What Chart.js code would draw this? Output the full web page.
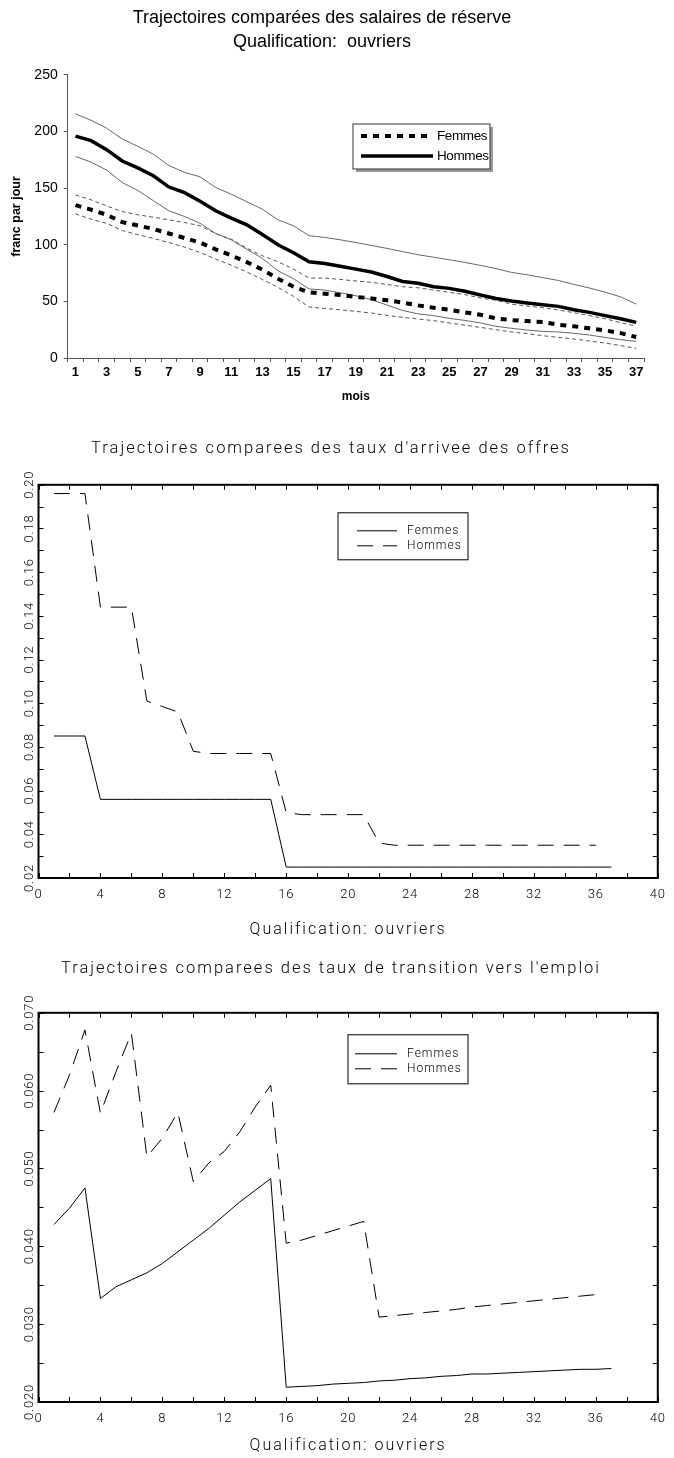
<!DOCTYPE html>
<html>
<head>
<meta charset="utf-8">
<script src="https://cdn.jsdelivr.net/npm/chart.js@4/dist/chart.umd.min.js"></script>
<style>
html,body{margin:0;padding:0;background:#fff;}
#page{position:relative;width:674px;height:1458px;overflow:hidden;background:#fff;}
.box{position:absolute;left:0;width:674px;}
.box canvas{display:block;}
</style>
</head>
<body>
<div id="page">
  <div class="box" style="top:0;height:420px"><canvas id="c1" width="674" height="420"></canvas></div>
  <div class="box" style="top:425px;height:515px"><canvas id="c2" width="674" height="515"></canvas></div>
  <div class="box" style="top:945px;height:513px"><canvas id="c3" width="674" height="513"></canvas></div>
</div>
<script>
// ---------- Chart 1 : salaires de réserve ----------
const moisSalaires = ['1','2','3','4','5','6','7','8','9','10','11','12','13','14','15','16','17','18','19','20','21','22','23','24','25','26','27','28','29','30','31','32','33','34','35','36','37'];
const hommesMoyen = [196,192,184,174,168,161,151,146,138.5,130,123.5,117.6,109,100,93,85,83.5,81,78.5,76,72,67.6,66,63,61.5,59,55.6,52.6,50.3,48.5,47,45.6,42.6,40.3,37.4,34.7,31.5];
const hommesHaut = [215.6,210,203,193.5,187,180,170,164,160,150.6,144.7,138,131.5,122,116.8,108,106.5,104.4,102,99.4,96.8,94,91.2,89,86.8,84.4,81.8,79,75.6,73.5,71,68.5,65,61.8,58.2,54,47.6];
const hommesBas = [178,173,166,155,148,139,130,125,119,110,104.4,96,88,77,70,61,60,57.6,55,51.5,46.8,42,39,37.4,35,33.2,31,28,26.2,24.7,23.5,23,21.8,20.3,18.2,16.2,14.7];
const femmesMoyen = [135,131,126.5,120,117,114,110,106,102,96,90.6,84.7,78,70,63,58,56.8,55.6,54,52.6,51,49,46.5,44.4,42.6,40.3,38.2,35,33.5,32.6,31.8,29.4,28,26.2,24.4,22,18.5];
const femmesHaut = [144,139.7,134.4,129.4,126.5,124.4,122,119.7,116.8,110,105,97,90.3,85,78.5,70.6,70.6,69.4,68,66.8,65,63,62,60,58,56,53,51,47.6,45.9,44.4,42.4,40,37.4,34.7,31.2,28.2];
const femmesBas = [127.4,122.6,119,112.6,109,105.6,102,98,93.2,87.4,82,76,69.4,62.4,54.4,45,43.8,42.6,41.2,39.7,37.6,35.9,34.4,33,31,29,27,25,23,21.5,19.7,18.2,16.8,15,13.2,11,8.5];
const moisAffiches = ['1','3','5','7','9','11','13','15','17','19','21','23','25','27','29','31','33','35','37'];
const yTicksSalaires = [0,50,100,150,200,250];

// ---------- Chart 2 : taux d'arrivée des offres ----------
const moisFemmes = [1,2,3,4,5,6,7,8,9,10,11,12,13,14,15,16,17,18,19,20,21,22,23,24,25,26,27,28,29,30,31,32,33,34,35,36,37];
const moisHommes = [1,2,3,4,5,6,7,8,9,10,11,12,13,14,15,16,17,18,19,20,21,22,23,24,25,26,27,28,29,30,31,32,33,34,35,36];
const femmesArrivee = [0.085,0.085,0.085,0.056,0.056,0.056,0.056,0.056,0.056,0.056,0.056,0.056,0.056,0.056,0.056,0.025,0.025,0.025,0.025,0.025,0.025,0.025,0.025,0.025,0.025,0.025,0.025,0.025,0.025,0.025,0.025,0.025,0.025,0.025,0.025,0.025,0.025];
const hommesArrivee = [0.196,0.196,0.196,0.144,0.144,0.144,0.101,0.0985,0.096,0.078,0.077,0.077,0.077,0.077,0.077,0.050,0.049,0.049,0.049,0.049,0.049,0.036,0.035,0.035,0.035,0.035,0.035,0.035,0.035,0.035,0.035,0.035,0.035,0.035,0.035,0.035];
const xTickLabels = ['0','4','8','12','16','20','24','28','32','36','40'];
const yTicksArrivee = ['0.02','0.04','0.06','0.08','0.10','0.12','0.14','0.16','0.18','0.20'];

// ---------- Chart 3 : taux de transition vers l'emploi ----------
const femmesTransition = [0.0428,0.0449,0.0475,0.0333,0.0348,0.0357,0.0366,0.0378,0.0393,0.0408,0.0423,0.0440,0.0457,0.0472,0.0487,0.0219,0.0220,0.0221,0.0223,0.0224,0.0225,0.0227,0.0228,0.0230,0.0231,0.0233,0.0234,0.0236,0.0236,0.0237,0.0238,0.0239,0.0240,0.0241,0.0242,0.0242,0.0243];
const hommesTransition = [0.0572,0.0620,0.0678,0.0571,0.0624,0.0674,0.0515,0.0539,0.0572,0.0483,0.0507,0.0522,0.0547,0.0579,0.0607,0.0404,0.0408,0.0414,0.0420,0.0426,0.0432,0.0309,0.0311,0.0313,0.0315,0.0317,0.0319,0.0322,0.0324,0.0326,0.0328,0.0330,0.0332,0.0334,0.0336,0.0338];
const yTicksTransition = ['0.020','0.030','0.040','0.050','0.060','0.070'];

// ---------- helpers ----------
const SANS = "'Liberation Sans', Arial, sans-serif";
const NARROW = "'Liberation Sans Narrow', 'Liberation Sans', Arial, sans-serif";
const PLOT = "Roboto, 'DejaVu Sans', sans-serif";
const pts = (xs, ys) => ys.map((v, i) => ({x: xs[i], y: v}));

function legendBox(cfg) {
  return {
    id: 'legendBox',
    afterDraw(chart) {
      const {ctx, chartArea: a} = chart;
      const x0 = a.left + cfg.dx, y0 = a.top + cfg.dy;
      ctx.save();
      if (cfg.shadow) { ctx.fillStyle = '#9a9a9a'; ctx.fillRect(x0 + 3, y0 + 3, cfg.w, cfg.h); }
      ctx.fillStyle = '#fff';
      ctx.fillRect(x0, y0, cfg.w, cfg.h);
      ctx.strokeStyle = cfg.boxColor || '#000';
      ctx.lineWidth = cfg.boxWidth;
      ctx.strokeRect(x0, y0, cfg.w, cfg.h);
      cfg.items.forEach(it => {
        const ds = chart.data.datasets[it.index];
        ctx.beginPath();
        ctx.setLineDash(ds.borderDash || []);
        ctx.lineWidth = ds.borderWidth;
        ctx.strokeStyle = ds.borderColor;
        ctx.moveTo(x0 + cfg.lx0, y0 + it.dy);
        ctx.lineTo(x0 + cfg.lx1, y0 + it.dy);
        ctx.stroke();
        ctx.setLineDash([]);
        ctx.font = cfg.font;
        ctx.fillStyle = '#000';
        ctx.textBaseline = 'middle';
        ctx.textAlign = 'left';
        ctx.letterSpacing = cfg.spacing || '0px';
        ctx.fillText(ds.label, x0 + cfg.tx, y0 + it.dy);
      });
      ctx.restore();
    }
  };
}

const frameTicks = {
  id: 'frameTicks',
  afterDatasetsDraw(chart) {
    const {ctx, chartArea: a, scales: {x, y}} = chart;
    ctx.save();
    ctx.strokeStyle = '#000';
    ctx.lineWidth = 1;
    ctx.beginPath();
    x.ticks.forEach(t => {
      const px = Math.round(x.getPixelForValue(t.value)) + 0.5;
      ctx.moveTo(px, a.bottom); ctx.lineTo(px, a.bottom - 5);
      ctx.moveTo(px, a.top); ctx.lineTo(px, a.top + 5);
    });
    y.ticks.forEach(t => {
      const py = Math.round(y.getPixelForValue(t.value)) + 0.5;
      ctx.moveTo(a.left, py); ctx.lineTo(a.left + 5, py);
      ctx.moveTo(a.right, py); ctx.lineTo(a.right - 5, py);
    });
    ctx.stroke();
    ctx.lineWidth = 2;
    ctx.strokeRect(a.left, a.top, a.right - a.left, a.bottom - a.top);
    ctx.restore();
  }
};

// letter spacing: titles use `px`, tick labels use `tickPx`
const spacing = (px, tickPx) => ({
  id: 'spacing',
  beforeDraw(chart) { chart.ctx.letterSpacing = px; },
  afterLayout(chart) {
    Object.values(chart.scales).forEach(s => {
      if (s._spPatched) return;
      const orig = s.drawLabels.bind(s);
      s.drawLabels = function(area) {
        const c = this.ctx; const old = c.letterSpacing;
        c.letterSpacing = tickPx; orig(area); c.letterSpacing = old;
      };
      s._spPatched = true;
    });
  }
});

// ---------- Chart 1 ----------
new Chart(document.getElementById('c1'), {
  type: 'line',
  data: {
    labels: moisSalaires,
    datasets: [
      {label: 'Femmes', data: femmesMoyen, borderColor: '#000', borderWidth: 4, borderDash: [6, 6], pointRadius: 0, tension: 0, order: 1},
      {label: 'Hommes', data: hommesMoyen, borderColor: '#000', borderWidth: 3.5, pointRadius: 0, tension: 0, order: 1},
      {label: 'Hommes haut', data: hommesHaut, borderColor: '#666', borderWidth: 1, pointRadius: 0, tension: 0, order: 2},
      {label: 'Hommes bas', data: hommesBas, borderColor: '#666', borderWidth: 1, pointRadius: 0, tension: 0, order: 2},
      {label: 'Femmes haut', data: femmesHaut, borderColor: '#555', borderWidth: 1, borderDash: [4, 3], pointRadius: 0, tension: 0, order: 2},
      {label: 'Femmes bas', data: femmesBas, borderColor: '#555', borderWidth: 1, borderDash: [4, 3], pointRadius: 0, tension: 0, order: 2}
    ]
  },
  options: {
    responsive: false,
    animation: false,
    layout: {padding: {left: 0, right: 30, top: 0, bottom: 0}},
    plugins: {
      legend: {display: false},
      tooltip: {enabled: false},
      title: {
        display: true,
        text: ['Trajectoires comparées des salaires de réserve', 'Qualification:  ouvriers'],
        color: '#000',
        font: {family: SANS, size: 18, weight: 'normal', lineHeight: 1.333},
        padding: {top: 6, bottom: 21}
      }
    },
    scales: {
      x: {
        type: 'category',
        offset: true,
        afterFit: s => { s.height = 62; },
        border: {display: true, color: '#555', width: 1},
        grid: {display: true, drawOnChartArea: false, drawTicks: true, tickLength: 4, offset: true, color: '#555'},
        ticks: {
          autoSkip: false, maxRotation: 0, padding: 3, color: '#000',
          font: {family: SANS, size: 13, weight: 'bold'},
          callback: function(v, i) { const l = this.getLabelForValue(v); return moisAffiches.includes(l) ? l : ''; }
        },
        title: {display: true, text: 'mois', color: '#000', font: {family: SANS, size: 12, weight: 'bold'}, padding: {top: 0, bottom: 16}}
      },
      y: {
        min: 0, max: 250,
        afterFit: s => { s.width = 67.7; },
        border: {display: true, color: '#555', width: 1},
        grid: {display: true, drawOnChartArea: false, drawTicks: true, tickLength: 4, color: '#555'},
        ticks: {
          stepSize: 50, padding: 6, color: '#000',
          font: {family: SANS, size: 14},
          callback: v => yTicksSalaires.includes(v) ? String(v) : ''
        },
        title: {display: true, text: 'franc par jour', color: '#000', font: {family: SANS, size: 12.5, weight: 'bold'}, padding: {top: 9, bottom: 0}}
      }
    }
  },
  plugins: [legendBox({
    dx: 285.3, dy: 49, w: 137, h: 45, boxWidth: 1, boxColor: '#333', shadow: true,
    lx0: 8, lx1: 80, tx: 84, font: '13.5px ' + NARROW, spacing: '-0.4px',
    items: [{index: 0, dy: 12}, {index: 1, dy: 32}]
  })]
});

// ---------- Charts 2 & 3 common ----------
function tauxChart(id, cfg) {
  return new Chart(document.getElementById(id), {
    type: 'line',
    data: {
      datasets: [
        {label: 'Femmes', data: cfg.femmes, borderColor: '#000', borderWidth: 1, pointRadius: 0, tension: 0},
        {label: 'Hommes', data: cfg.hommes, borderColor: '#000', borderWidth: 1, borderDash: [16, 10], pointRadius: 0, tension: 0}
      ]
    },
    options: {
      responsive: false,
      animation: false,
      layout: {padding: {left: 0, right: 12, top: 0, bottom: 0}},
      plugins: {
        legend: {display: false},
        tooltip: {enabled: false},
        title: {
          display: true, text: cfg.title, color: '#000',
          font: {family: PLOT, size: 16.5, weight: 300, lineHeight: 1.2},
          padding: cfg.titlePad
        }
      },
      scales: {
        x: {
          type: 'linear', min: 0, max: 40,
          afterFit: s => { s.height = cfg.xHeight; },
          border: {display: false},
          grid: {display: false, drawTicks: false},
          ticks: {
            stepSize: 2, autoSkip: false, maxRotation: 0, padding: 9, color: '#000',
            font: {family: PLOT, size: 13, weight: 300},
            callback: v => { const s = String(v); return xTickLabels.includes(s) ? s : ''; }
          },
          title: {display: true, text: 'Qualification: ouvriers', color: '#000', font: {family: PLOT, size: 16, weight: 300, lineHeight: 1.2}, padding: {top: 0, bottom: cfg.xTitlePad}}
        },
        y: {
          type: 'linear', min: cfg.ymin, max: cfg.ymax,
          afterFit: s => { s.width = 38.5; },
          border: {display: false},
          grid: {display: false, drawTicks: false},
          ticks: {
            stepSize: cfg.step, autoSkip: false, minRotation: 90, maxRotation: 90, crossAlign: 'center',
            padding: cfg.yPad, color: '#000',
            font: {family: PLOT, size: 13, weight: 300},
            callback: v => { const s = v.toFixed(cfg.dec); return cfg.yLabels.includes(s) ? s : ''; }
          }
        }
      }
    },
    plugins: [spacing('2px', '0.8px'), frameTicks, legendBox(cfg.legend)]
  });
}

tauxChart('c2', {
  title: "Trajectoires comparees des taux d'arrivee des offres",
  titlePad: {top: 14, bottom: 26},
  xHeight: 62, xTitlePad: 0,
  femmes: pts(moisFemmes, femmesArrivee),
  hommes: pts(moisHommes, hommesArrivee),
  ymin: 0.02, ymax: 0.20, step: 0.01, dec: 2, yLabels: yTicksArrivee, yPad: -4,
  legend: {dx: 299.5, dy: 28, w: 130, h: 47, boxWidth: 1, lx0: 19, lx1: 59, tx: 69,
           font: '300 12px ' + PLOT, spacing: '1px',
           items: [{index: 0, dy: 18}, {index: 1, dy: 33}]}
});

tauxChart('c3', {
  title: "Trajectoires comparees des taux de transition vers l'emploi",
  titlePad: {top: 14, bottom: 34},
  xHeight: 56, xTitlePad: 2,
  femmes: pts(moisFemmes, femmesTransition),
  hommes: pts(moisHommes, hommesTransition),
  ymin: 0.02, ymax: 0.07, step: 0.005, dec: 3, yLabels: yTicksTransition, yPad: -7.5,
  legend: {dx: 309.5, dy: 22, w: 120, h: 49, boxWidth: 1, lx0: 7, lx1: 49, tx: 59,
           font: '300 12px ' + PLOT, spacing: '1px',
           items: [{index: 0, dy: 19}, {index: 1, dy: 34}]}
});
</script>
</body>
</html>
